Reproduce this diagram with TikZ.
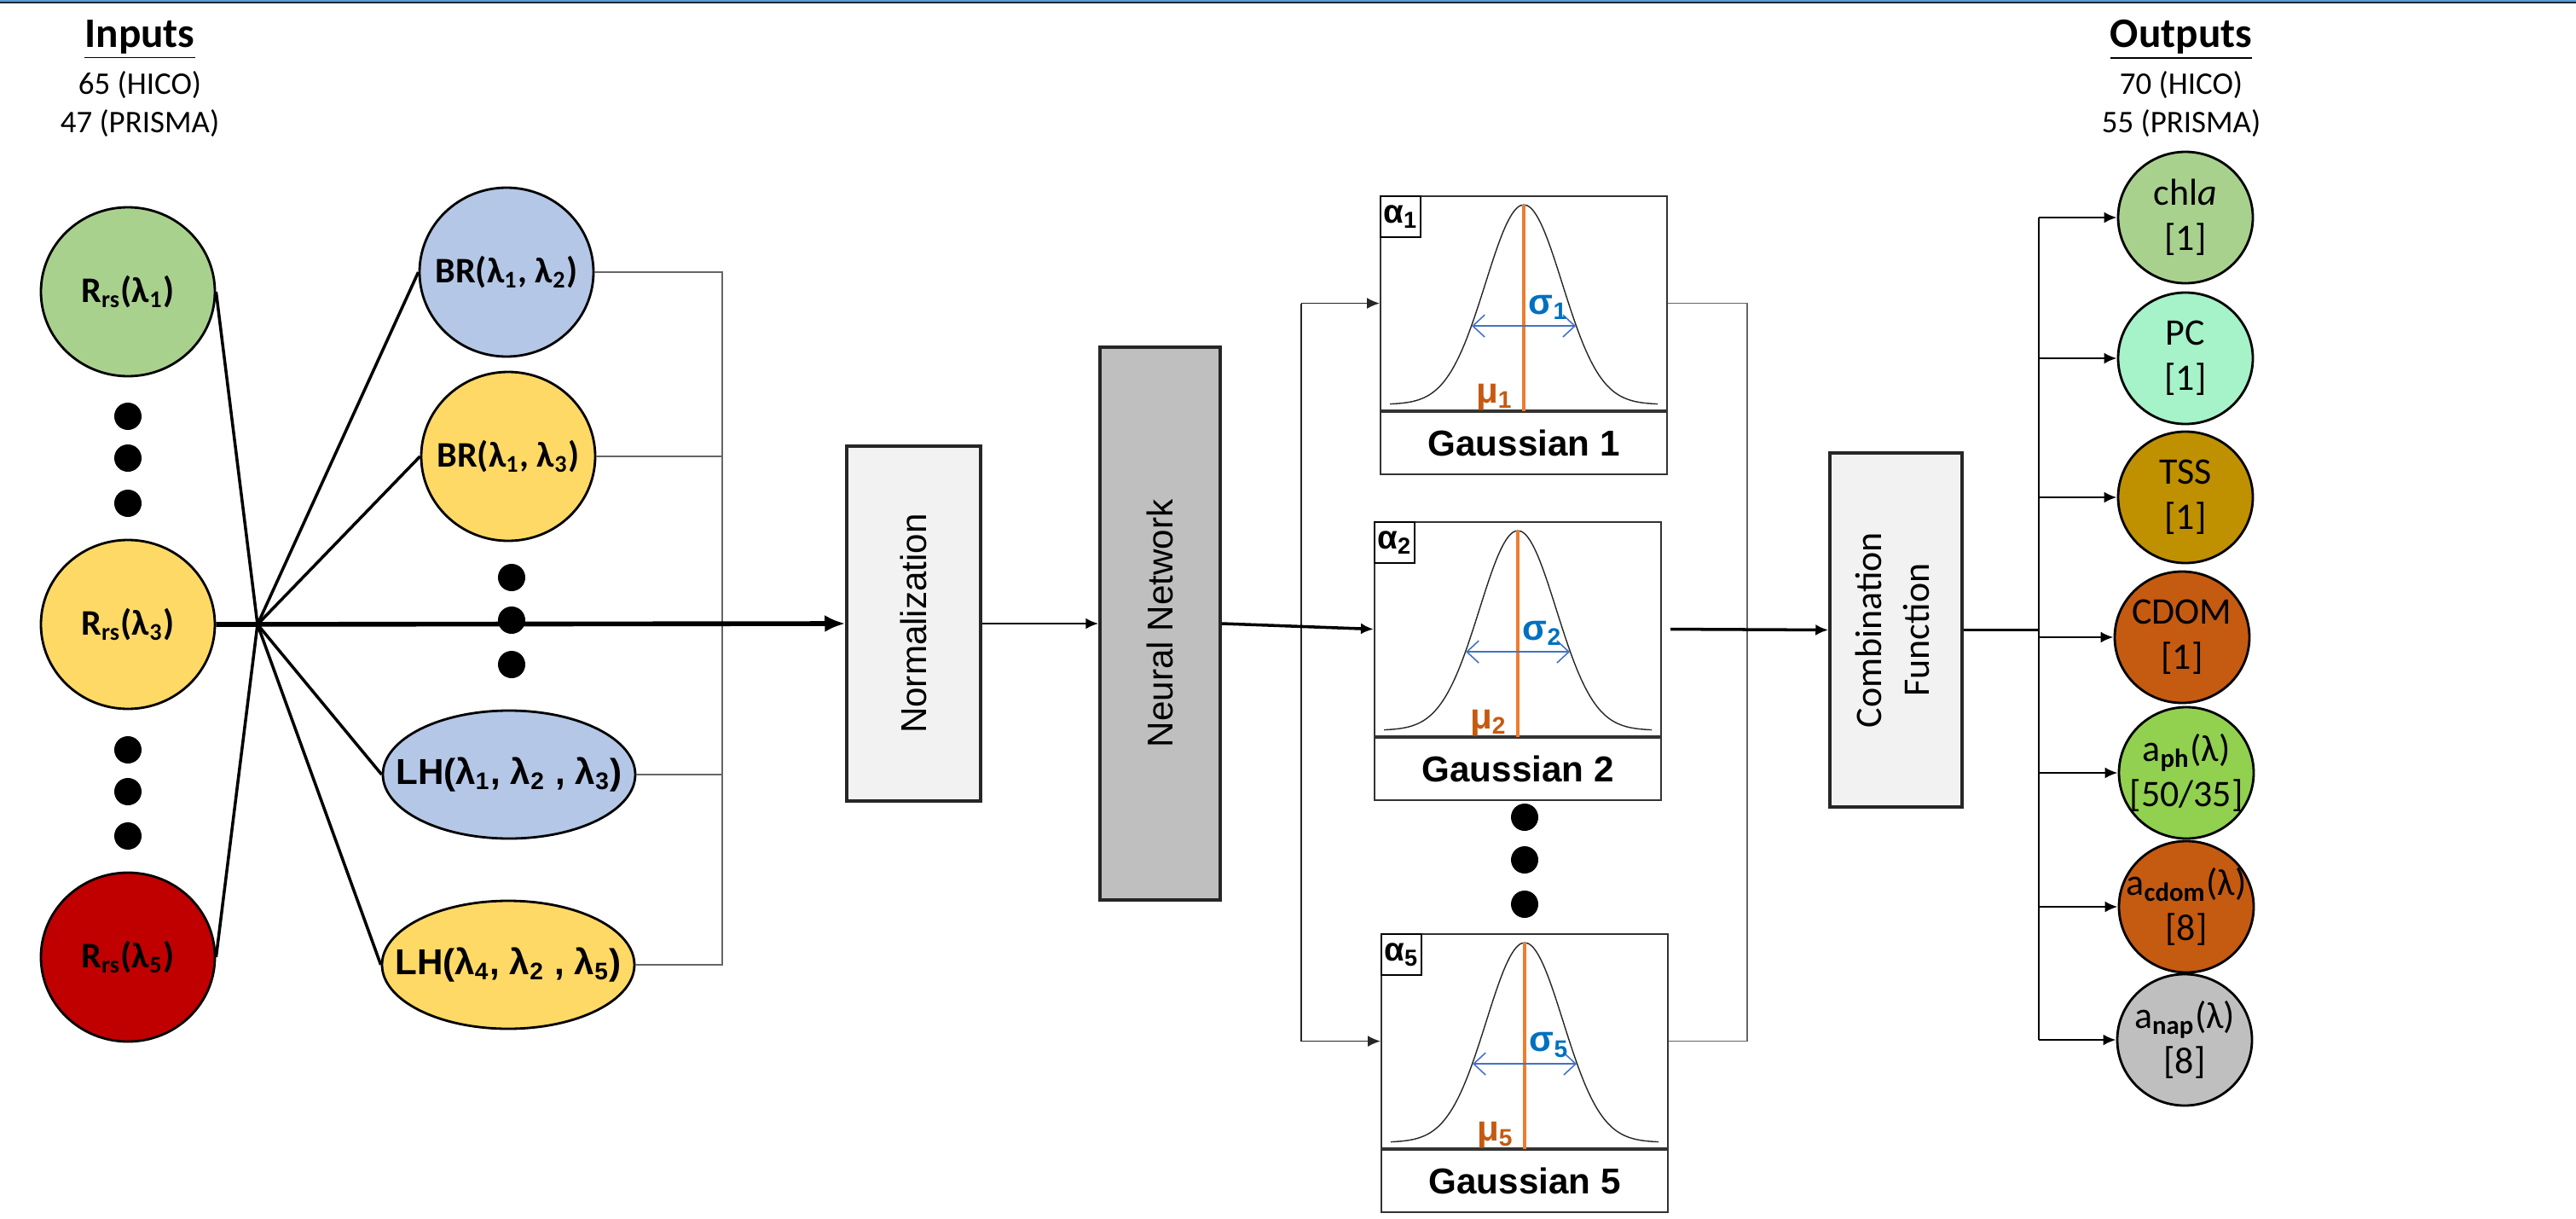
\documentclass[tikz,border=0pt]{standalone}
\usepackage{fontspec}
\setmainfont{Carlito}
\newfontfamily\arialf{Liberation Sans}
\usepackage{graphicx}
\usetikzlibrary{%
  arrows.meta,%
  calc,%
  positioning,%
  shapes.geometric%
}
\definecolor{rsgreen}{HTML}{A9D18E}
\definecolor{rsyellow}{HTML}{FFD966}
\definecolor{rsred}{HTML}{C00000}
\definecolor{brblue}{HTML}{B4C7E7}
\definecolor{pcmint}{HTML}{A6F2C9}
\definecolor{tssgold}{HTML}{BF9000}
\definecolor{cdomrust}{HTML}{C55A11}
\definecolor{aphgreen}{HTML}{92D050}
\definecolor{napgray}{HTML}{BFBFBF}
\definecolor{boxlight}{HTML}{F2F2F2}
\definecolor{nngray}{HTML}{BFBFBF}
\definecolor{muline}{HTML}{ED7D31}
\definecolor{mutext}{HTML}{C55A11}
\definecolor{sigtext}{HTML}{0070C0}
\definecolor{sigline}{HTML}{4472C4}
\definecolor{topblue}{HTML}{5B9BD5}
\definecolor{topdark}{HTML}{1F2A36}
\tikzset{>={Latex[length=0.15cm,width=0.13cm]}}
\tikzset{hdr/.style = {align=center, inner sep=0pt, font=\fontsize{10.5}{12.8}\selectfont},
  inpnode/.style = {ellipse, draw=black, line width=0.8pt, inner ysep=0pt, inner xsep=-0.3cm,
    minimum width=2.04cm, minimum height=1.98cm, font=\fontsize{12}{14}\selectfont\bfseries},
  lhnode/.style = {inpnode, inner xsep=-0.5cm, minimum width=2.96cm, minimum height=1.50cm,
    font=\arialf\fontsize{12}{14}\selectfont\bfseries},
  outnode/.style = {ellipse, draw=black, line width=0.8pt, inner ysep=0pt, inner xsep=-0.4cm, align=center,
    minimum width=1.58cm, minimum height=1.54cm, font=\fontsize{12.5}{15}\selectfont},
  procbox/.style = {draw=black!85, line width=1pt, inner sep=0pt},
  gplot/.style = {draw=black!80, line width=0.6pt, inner sep=0pt,
    minimum width=3.36cm, minimum height=2.51cm},
  glabel/.style = {gplot, minimum height=0.73cm, font=\arialf\bfseries\fontsize{12}{14}\selectfont},
  abox/.style = {draw=black, line width=0.6pt, inner sep=0pt, minimum width=0.47cm,
    minimum height=0.48cm, font=\arialf\bfseries\fontsize{11}{13}\selectfont},
  gcurve/.style = {black!85, line width=0.4pt},
  mustem/.style = {muline, line width=0.95pt},
  sigarrow/.style = {sigline, line width=0.45pt, {Straight Barb[length=0.14cm,width=0.26cm]}-{Straight Barb[length=0.14cm,width=0.26cm]}},
  siglabel/.style = {inner sep=0pt, text=sigtext, font=\arialf\bfseries\fontsize{12}{14}\selectfont},
  mulabel/.style = {inner sep=0pt, text=mutext, font=\arialf\bfseries\fontsize{12}{14}\selectfont},
  fanline/.style = {line width=1pt},
  mainline/.style = {line width=1.6pt},
  thinlink/.style = {black!60, line width=0.45pt},
  gin/.style = {black!85, line width=0.5pt},
  gout/.style = {black!60, line width=0.45pt},
  nnout/.style = {line width=1pt},
  obusline/.style = {line width=0.8pt}}

\begin{document}
\begin{tikzpicture}[x=1cm, y=-1cm]
  \useasboundingbox (0,0) rectangle (30.21,14.29);
  \fill[topblue] (0,0) rectangle (30.21,0.022);
  \draw[topdark, line width=0.4pt] (0,0.028) -- (30.21,0.028);

  % headers
  \node[hdr] (inputs) at (1.64,0.92) {{\fontsize{14}{16}\selectfont\bfseries\underline{Inputs}}\\[3pt]65 (HICO)\\47 (PRISMA)};
  \node[hdr] (outputs) at (25.58,0.92) {{\fontsize{14}{16}\selectfont\bfseries\underline{Outputs}}\\[3pt]70 (HICO)\\55 (PRISMA)};

  % input bands
  \node[inpnode, fill=rsgreen] (r1) at (1.50,3.42) {R\textsubscript{rs}(λ\textsubscript{1})};
  \node[inpnode, fill=rsyellow] (r3) at (1.50,7.32) {R\textsubscript{rs}(λ\textsubscript{3})};
  \node[inpnode, fill=rsred] (r5) at (1.50,11.22) {R\textsubscript{rs}(λ\textsubscript{5})};

  % band ratios and line heights
  \node[inpnode, fill=brblue] (br1) at (5.94,3.19) {BR(λ\textsubscript{1}, λ\textsubscript{2})};
  \node[inpnode, fill=rsyellow] (br2) at (5.96,5.35) {BR(λ\textsubscript{1}, λ\textsubscript{3})};
  \node[lhnode, fill=brblue] (lh1) at (5.97,9.08) {LH(λ\textsubscript{1}, λ\textsubscript{2} , λ\textsubscript{3})};
  \node[lhnode, fill=rsyellow] (lh2) at (5.96,11.31) {LH(λ\textsubscript{4}, λ\textsubscript{2} , λ\textsubscript{5})};

  \coordinate (hub) at (3.02,7.32);
  \foreach \n/\a in {r1/east, r5/east, br1/west, br2/west, lh1/west, lh2/west}
    \draw[fanline] (hub) -- (\n.\a);

  \coordinate (bbus) at (8.47,0);
  \draw[thinlink] (br1.east) -- (br1.east -| bbus) -- (lh2.east -| bbus) -- (lh2.east);
  \draw[thinlink] (br2.east) -- (br2.east -| bbus);
  \draw[thinlink] (lh1.east) -- (lh1.east -| bbus);

  % processing boxes
  \node[procbox, fill=boxlight, minimum width=1.57cm, minimum height=4.16cm,
    font=\arialf\fontsize{12}{14}\selectfont] (norm) at (10.715,7.31) {\rotatebox{90}{Normalization}};
  \node[procbox, fill=nngray, minimum width=1.41cm, minimum height=6.48cm,
    font=\arialf\fontsize{12}{14}\selectfont] (nn) at (13.605,7.31) {\rotatebox{90}{Neural Network}};
  \draw[mainline, -{Latex[length=0.24cm,width=0.2cm]}] (r3.east) -- (norm.west);
  \draw[obusline, ->] (norm.east) -- (nn.west);

  % gaussian components
  \foreach \i/\xl/\t in {1/16.18/2.29, 2/16.11/6.11, 5/16.19/10.94}{
    \node[gplot, anchor=north west] (g\i) at (\xl,\t) {};
    \node[glabel, below=0pt of g\i] (gl\i) {Gaussian \i};
    \node[abox, anchor=north west] (a\i) at (g\i.north west) {α\textsubscript{\i}};
    \begin{scope}[shift={(g\i.south)}]
      \draw[gcurve] plot[domain=-1.57:1.57, samples=81, smooth] (\x, {-0.08-2.34*exp(-(\x)^2/0.405)});
      \draw[mustem] (0,0) -- (0,-2.42);
      \draw[sigarrow] (-0.61,-1.00) -- (0.61,-1.00);
      \node[siglabel, anchor=west] (s\i) at (0.05,-1.22) {σ\textsubscript{\i}};
      \node[mulabel, anchor=base east] (m\i) at (-0.12,-0.1) {μ\textsubscript{\i}};
    \end{scope}
  }

  \coordinate (gbus) at (15.26,0);
  \draw[gin] (gbus |- g1.west) -- (gbus |- g5.west);
  \draw[gin, ->] (gbus |- g1.west) -- (g1.west);
  \draw[gin, ->] (gbus |- g5.west) -- (g5.west);
  \draw[nnout, ->] (nn.east) -- (g2.west);

  \coordinate (gobus) at (20.49,0);
  \draw[gout] (g1.east) -- (g1.east -| gobus) -- (g5.east -| gobus) -- (g5.east);

  \node[procbox, fill=boxlight, minimum width=1.55cm, minimum height=4.15cm,
    font=\fontsize{12.5}{16}\selectfont] (comb) at (22.235,7.385)
    {\rotatebox{90}{\begin{tabular}{@{}c@{}}Combination\\Function\end{tabular}}};
  \draw[nnout, ->] ([xshift=1mm]g2.east) -- (comb.west);

  % outputs
  \node[outnode, fill=rsgreen] (chla) at (25.63,2.55) {chl\textit{a}\\{[}1{]}};
  \node[outnode, fill=pcmint] (pc) at (25.63,4.20) {PC\\{[}1{]}};
  \node[outnode, fill=tssgold] (tss) at (25.63,5.83) {TSS\\{[}1{]}};
  \node[outnode, fill=cdomrust] (cdom) at (25.59,7.47) {CDOM\\{[}1{]}};
  \node[outnode, fill=aphgreen] (aph) at (25.64,9.06) {a\textsubscript{\textbf{ph}}(λ)\\{[}50/35{]}};
  \node[outnode, fill=cdomrust] (acdom) at (25.64,10.63) {a\textsubscript{\textbf{cdom}}(λ)\\{[}8{]}};
  \node[outnode, fill=napgray] (anap) at (25.62,12.19) {a\textsubscript{\textbf{nap}}(λ)\\{[}8{]}};

  \coordinate (obus) at (23.91,0);
  \draw[obusline] (comb.east) -- (comb.east -| obus);
  \draw[obusline] (obus |- chla.west) -- (obus |- anap.west);
  \foreach \o in {chla,pc,tss,cdom,aph,acdom,anap}
    \draw[obusline, ->] (obus |- \o.west) -- (\o.west);

  % ellipsis dots
  \foreach \x/\y in {1.50/4.88, 1.50/5.37, 1.50/5.90, 1.50/8.79, 1.50/9.28, 1.50/9.80,
      6.00/6.77, 6.00/7.27, 6.00/7.79, 17.88/9.58, 17.88/10.08, 17.88/10.60}
    \fill (\x,\y) circle (0.16cm);
\end{tikzpicture}
\end{document}
